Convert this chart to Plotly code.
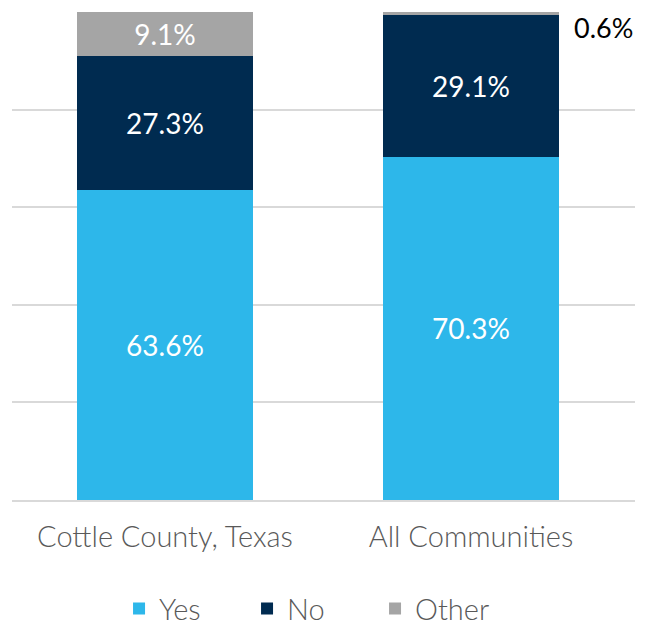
import plotly.graph_objects as go

categories = ["Cottle County, Texas", "All Communities"]
yes_vals = [63.6, 70.3]
no_vals = [27.3, 29.1]
other_vals = [9.1, 0.6]

FONT = "Lato"
colors = {"Yes": "#2DB7EA", "No": "#002B50", "Other": "#A5A5A5"}

fig = go.Figure()
series = [("Yes", yes_vals), ("No", no_vals), ("Other", other_vals)]
for name, vals in series:
    # small segments get an outside annotation instead of an inside label
    texts = [f"{v:.1f}%" if v >= 3 else "" for v in vals]
    fig.add_trace(go.Bar(
        x=categories, y=vals, name=name,
        marker=dict(color=colors[name], line=dict(width=0)),
        text=texts, textposition="inside", insidetextanchor="middle",
        textfont=dict(color="white", size=28, family=FONT, weight=400),
        hoverinfo="skip",
    ))

# label for the thin "Other" segment of the second bar
fig.add_annotation(
    x=categories[1], y=yes_vals[1] + no_vals[1] + other_vals[1],
    xref="x", yref="y", text=f"{other_vals[1]:.1f}%",
    showarrow=False, xanchor="left", yanchor="middle",
    xshift=101, yshift=-15,
    font=dict(color="black", size=27, family=FONT, weight=400),
)

fig.update_layout(
    barmode="stack",
    bargap=0.425,
    width=655, height=625,
    margin=dict(l=12, r=20, t=12, b=125, autoexpand=False),
    paper_bgcolor="white", plot_bgcolor="white",
    showlegend=True,
    legend=dict(
        orientation="h", x=0.48, xanchor="center",
        yref="container", y=0.026, yanchor="middle",
        font=dict(size=29, color="#595959", family=FONT, weight=300),
        traceorder="normal", itemwidth=30,
        entrywidth=83, entrywidthmode="pixels",
    ),
    font=dict(family=FONT),
)
fig.update_xaxes(
    tickfont=dict(size=29, color="#595959", family=FONT, weight=300),
    showline=True, linecolor="#D9D9D9", linewidth=2,
    ticks="", ticklabelstandoff=10, automargin=False,
)
fig.update_yaxes(
    range=[0, 100], dtick=20, showticklabels=False,
    showgrid=True, gridcolor="#D9D9D9", gridwidth=2, zeroline=False,
    automargin=False,
)

fig.write_html("out.html")
